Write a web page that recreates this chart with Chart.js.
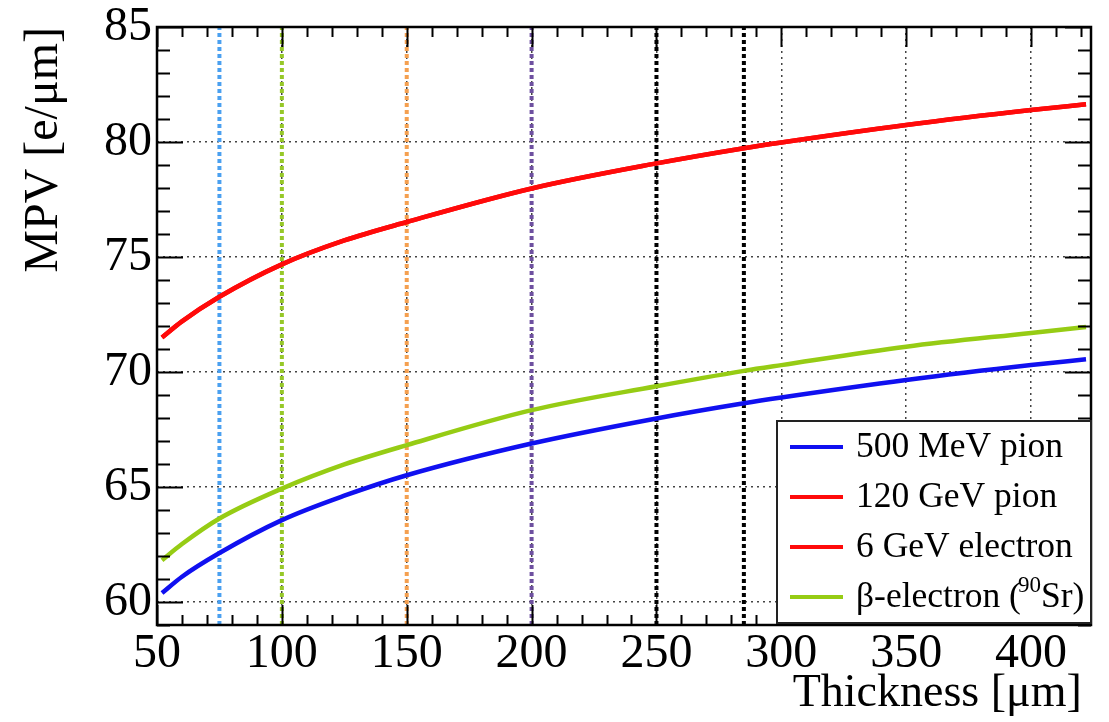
<!DOCTYPE html>
<html><head><meta charset="utf-8">
<script src="https://cdn.jsdelivr.net/npm/chart.js@4/dist/chart.umd.min.js"></script>
<style>html,body{margin:0;padding:0;background:#fff;} #wrap{width:1109px;height:722px;position:relative}</style>
</head><body><div id="wrap"><canvas id="c" width="1109" height="722"></canvas></div>
<script>
// ---- data ----
const thickness       = [52, 60, 75, 100, 125, 150, 200, 250, 285, 300, 350, 400, 422];
const mpvPion500MeV   = [60.39, 61.10, 62.13, 63.56, 64.62, 65.51, 66.89, 67.98, 68.64, 68.89, 69.65, 70.30, 70.55];
const mpvPion120GeV   = [71.50, 72.20, 73.27, 74.68, 75.72, 76.52, 77.98, 79.07, 79.73, 79.98, 80.74, 81.39, 81.64];
const mpvElectron6GeV = [71.50, 72.20, 73.27, 74.68, 75.72, 76.52, 77.98, 79.07, 79.73, 79.98, 80.74, 81.39, 81.64];
const mpvBetaSr90     = [61.82, 62.52, 63.63, 64.93, 65.98, 66.82, 68.34, 69.38, 70.05, 70.30, 71.10, 71.70, 71.96];
const markerThickness = [75, 100, 150, 200, 250, 285];
const seriesNames     = ['500 MeV pion', '120 GeV pion', '6 GeV electron', 'β-electron (90Sr)'];
const xRange = [50, 424];
const yRange = [59, 85];
const xTickStep = 50, yTickStep = 5;
const xTitle = 'Thickness [μm]\u2009';
const yTitle = 'MPV [e/μm]';

// ---- styles ----
const seriesColors = ['#1010f0', '#ff0a0a', '#ff0a0a', '#96cc14'];
const markerColors = ['#4aa0f0', '#96c828', '#f5a050', '#6e50a0', '#000000', '#000000'];
const SERIF = "'Liberation Serif', 'Times New Roman', serif";

const toPts = (xs, ys) => xs.map((x, i) => ({x: x, y: ys[i]}));
const seriesData = [mpvPion500MeV, mpvPion120GeV, mpvElectron6GeV, mpvBetaSr90];

const datasets = [];
seriesData.forEach((ys, i) => {
  datasets.push({
    label: seriesNames[i], data: toPts(thickness, ys),
    borderColor: seriesColors[i], borderWidth: 4.5, pointRadius: 0,
    cubicInterpolationMode: 'monotone', fill: false, order: 1
  });
});
markerThickness.forEach((t, i) => {
  datasets.push({
    label: 'marker' + t, data: [{x: t, y: yRange[0]}, {x: t, y: yRange[1]}],
    borderColor: markerColors[i], borderWidth: 4, borderDash: [4, 3],
    pointRadius: 0, fill: false, order: 2
  });
});

const framePlugin = {
  id: 'frame',
  afterDraw(chart) {
    const {ctx, chartArea: a, scales: {x, y}} = chart;
    ctx.save();
    ctx.strokeStyle = '#000';
    ctx.lineWidth = 2;
    ctx.beginPath();
    for (let v = xRange[0]; v <= xRange[1]; v += 10) {
      const px = Math.round(x.getPixelForValue(v)) + 0.5;
      const L = (v % 50 === 0) ? 20 : 10;
      ctx.moveTo(px, a.bottom); ctx.lineTo(px, a.bottom - L);
      ctx.moveTo(px, a.top); ctx.lineTo(px, a.top + L);
    }
    for (let v = yRange[0]; v <= yRange[1]; v += 1) {
      const py = Math.round(y.getPixelForValue(v)) + 0.5;
      const L = (v % 5 === 0) ? 26 : 13;
      ctx.moveTo(a.left, py); ctx.lineTo(a.left + L, py);
      ctx.moveTo(a.right, py); ctx.lineTo(a.right - L, py);
    }
    ctx.stroke();
    ctx.lineWidth = 2.5;
    ctx.strokeRect(a.left, a.top, a.right - a.left, a.bottom - a.top);

    // legend
    const bw = 314, bh = 202;
    const bx = a.right - bw, by = a.bottom - 2 - bh;
    ctx.fillStyle = '#fff';
    ctx.fillRect(bx, by, bw, bh);
    ctx.lineWidth = 2;
    ctx.strokeStyle = '#222';
    ctx.strokeRect(bx, by, bw, bh);
    ctx.textBaseline = 'middle';
    ctx.textAlign = 'left';
    const fs = 35.5;
    seriesNames.forEach((name, i) => {
      const cy = by + 26 + i * 50;
      ctx.strokeStyle = seriesColors[i];
      ctx.lineWidth = 4;
      ctx.beginPath(); ctx.moveTo(bx + 13, cy); ctx.lineTo(bx + 66, cy); ctx.stroke();
      ctx.fillStyle = '#000';
      ctx.font = fs + 'px ' + SERIF;
      const tx = bx + 79;
      const m = name.match(/^(.*\()(\d+)(.*)$/);
      if (m) {
        ctx.fillText(m[1], tx, cy + 1);
        let w = ctx.measureText(m[1]).width;
        ctx.font = '23px ' + SERIF;
        ctx.fillText(m[2], tx + w - 3, cy - 11);
        w += ctx.measureText(m[2]).width - 3;
        ctx.font = fs + 'px ' + SERIF;
        ctx.fillText(m[3], tx + w, cy + 1);
      } else {
        ctx.fillText(name, tx, cy + 1);
      }
    });
    ctx.restore();
  }
};

new Chart(document.getElementById('c'), {
  type: 'line',
  data: {datasets: datasets},
  options: {
    responsive: false, animation: false, devicePixelRatio: 1,
    layout: {padding: {top: 27, right: 18, left: 0, bottom: 0}},
    plugins: {legend: {display: false}, tooltip: {enabled: false}},
    scales: {
      x: {
        type: 'linear', min: xRange[0], max: xRange[1],
        afterFit: s => { s.height = 97; },
        ticks: {stepSize: xTickStep, includeBounds: false, color: '#000', padding: 1,
                maxRotation: 0, autoSkip: false, font: {family: SERIF, size: 48}},
        grid: {color: '#444', lineWidth: 1.5, drawTicks: false},
        border: {display: false, dash: [2, 4]},
        title: {display: true, text: xTitle, align: 'end', color: '#000', padding: 0,
                font: {family: SERIF, size: 46}}
      },
      y: {
        type: 'linear', min: yRange[0], max: yRange[1],
        afterFit: s => { s.width = 157; },
        ticks: {stepSize: yTickStep, includeBounds: false, color: '#000', padding: 5,
                font: {family: SERIF, size: 48, lineHeight: 0.8}},
        grid: {color: '#444', lineWidth: 1.5, drawTicks: false},
        border: {display: false, dash: [2, 4]},
        title: {display: true, text: yTitle, align: 'end', color: '#000', padding: {top: 16},
                font: {family: SERIF, size: 48}}
      }
    }
  },
  plugins: [framePlugin]
});
</script>
</body></html>
